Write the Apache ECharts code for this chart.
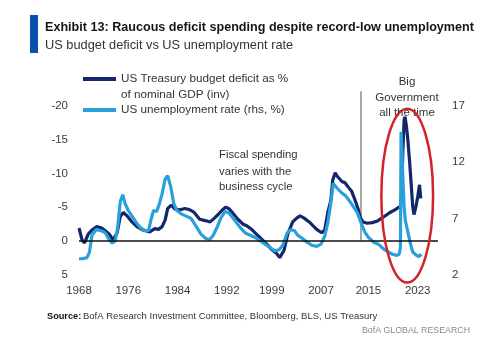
<!DOCTYPE html>
<html>
<head>
<meta charset="utf-8">
<script src="https://cdn.jsdelivr.net/npm/echarts@6/dist/echarts.min.js"></script>
<style>
html,body{margin:0;padding:0;background:#fff;}
#c{width:500px;height:362px;}
</style>
</head>
<body>
<div id="c"></div>
<script>
// ---- Data ----
const deficitName = 'US Treasury budget deficit as % of nominal GDP (inv)';
const unempName = 'US unemployment rate (rhs, %)';

// Budget balance as % of GDP, plotted on inverted left axis (negative = deficit)
const deficitYears = [1968.0,1968.5,1968.9,1969.5,1970.1,1970.9,1971.7,1972.5,1973.0,1973.5,1974.2,1974.7,1975.2,1975.8,1976.6,1977.4,1978.4,1979.5,1980.3,1980.9,1981.5,1982.0,1982.4,1983.0,1983.6,1984.4,1985.2,1986.0,1986.6,1987.6,1988.5,1989.3,1989.9,1990.6,1991.2,1991.8,1992.3,1993.0,1993.8,1994.6,1995.3,1995.9,1996.9,1997.7,1998.5,1999.3,2000.1,2000.6,2001.3,2001.9,2002.7,2003.4,2003.9,2004.5,2005.5,2006.6,2007.4,2007.9,2008.4,2008.9,2009.2,2009.6,2010.0,2010.7,2011.2,2011.7,2012.3,2012.8,2013.3,2013.7,2014.1,2014.8,2015.6,2016.4,2017.4,2018.5,2019.3,2019.8,2020.2,2020.4,2020.6,2020.8,2020.95,2021.2,2021.4,2021.7,2021.9,2022.2,2022.4,2022.7,2023.0,2023.3,2023.5];
const deficitValues = [-1.9,-0.1,0.3,-1.0,-1.6,-2.1,-1.9,-1.3,-0.9,-0.1,-1.2,-3.6,-4.2,-3.7,-2.8,-2.1,-1.6,-1.3,-1.8,-1.7,-2.1,-3.1,-4.8,-5.3,-4.7,-4.6,-4.8,-4.6,-4.3,-3.2,-3.0,-2.8,-3.3,-3.9,-4.5,-5.0,-4.8,-4.1,-3.2,-2.5,-2.2,-1.8,-0.9,-0.2,0.5,1.3,1.9,2.5,1.4,-1.0,-2.8,-3.4,-3.7,-3.4,-2.7,-1.7,-1.2,-1.6,-4.2,-6.0,-9.0,-10.1,-9.5,-8.8,-8.6,-8.0,-7.3,-6.1,-4.8,-3.4,-2.8,-2.6,-2.7,-2.9,-3.5,-4.2,-4.6,-4.9,-5.1,-7.0,-13.5,-18.0,-18.4,-16.8,-15.0,-11.6,-9.0,-5.0,-3.9,-5.0,-6.5,-8.3,-6.3];

// Unemployment rate, %, right axis
const unempYears = [1968.0,1968.6,1969.3,1969.7,1970.1,1970.8,1971.6,1972.3,1972.9,1973.4,1973.9,1974.3,1974.7,1975.1,1975.5,1976.0,1976.6,1977.2,1977.9,1978.7,1979.3,1979.7,1980.1,1980.6,1981.0,1981.5,1982.0,1982.4,1982.9,1983.4,1983.9,1984.6,1985.4,1986.2,1987.0,1987.8,1988.6,1989.2,1989.8,1990.5,1991.0,1991.7,1992.3,1992.9,1993.6,1994.3,1995.0,1995.8,1996.6,1997.4,1998.2,1999.0,1999.8,2000.5,2001.1,2001.8,2002.4,2003.0,2003.5,2004.3,2005.0,2005.8,2006.6,2007.3,2007.9,2008.4,2008.9,2009.3,2009.9,2010.6,2011.3,2012.0,2012.6,2013.2,2013.8,2014.4,2015.0,2015.8,2016.6,2017.4,2018.2,2018.9,2019.6,2020.0,2020.2,2020.3,2020.45,2020.6,2020.8,2021.0,2021.4,2021.8,2022.2,2022.8,2023.2,2023.6];
const unempValues = [3.4,3.4,3.5,4.0,5.5,6.0,5.9,5.7,5.1,4.8,5.0,6.3,8.5,9.1,8.3,7.7,7.2,6.7,6.2,5.9,5.9,6.9,7.7,7.6,8.2,9.2,10.5,10.8,9.8,8.3,7.7,7.4,7.2,7.0,6.3,5.6,5.2,5.1,5.5,6.3,7.0,7.6,7.5,7.1,6.6,6.1,5.7,5.5,5.3,5.0,4.7,4.4,4.1,4.2,4.6,5.7,6.0,5.9,5.5,5.2,4.9,4.6,4.5,4.7,5.4,6.6,8.4,10.1,9.7,9.3,9.0,8.5,8.0,7.5,6.6,5.8,5.3,4.9,4.7,4.3,4.0,3.8,3.7,3.8,4.4,14.7,13.0,10.5,8.0,6.8,5.8,4.8,4.0,3.7,3.6,3.8];

// Axis ticks
const xTickYears = [1968,1976,1984,1992,1999.3,2007.3,2015,2023];
const xTickLabels = ['1968','1976','1984','1992','1999','2007','2015','2023'];

// Annotation anchors (data space)
const regimeBreakYear = 2013.8;
const ellipseCenter = [2021.3, -6.7];
const ellipseHalf = [4.2, 12.9];

(function () {
const FONT = '"Liberation Sans", Arial, sans-serif';
const LABEL = '#3a3a3a';

const chart = echarts.init(document.getElementById('c'), null, {renderer: 'canvas'});

function baseGraphics() {
  return [
    {id: 'bar', type: 'rect', shape: {x: 30, y: 15, width: 8, height: 38}, style: {fill: '#0b4fae'}},
    {id: 't1', type: 'text', style: {text: 'Exhibit 13: Raucous deficit spending despite record-low unemployment', x: 45, y: 28, fill: '#161616', fontSize: 12.6, fontWeight: 'bold', fontFamily: FONT, verticalAlign: 'middle'}},
    {id: 't2', type: 'text', style: {text: 'US budget deficit vs US unemployment rate', x: 45, y: 45, fill: '#333', fontSize: 12.8, fontFamily: FONT, verticalAlign: 'middle'}},
    {id: 'lg2', type: 'text', style: {text: 'of nominal GDP (inv)', x: 121, y: 94.5, fill: '#333', fontSize: 11.7, fontFamily: FONT, verticalAlign: 'middle'}},
    {id: 'a1', type: 'text', style: {text: 'Fiscal spending', x: 219, y: 155, fill: '#333', fontSize: 11.3, fontFamily: FONT, verticalAlign: 'middle'}},
    {id: 'a2', type: 'text', style: {text: 'varies with the', x: 219, y: 171.5, fill: '#333', fontSize: 11.3, fontFamily: FONT, verticalAlign: 'middle'}},
    {id: 'a3', type: 'text', style: {text: 'business cycle', x: 219, y: 187, fill: '#333', fontSize: 11.3, fontFamily: FONT, verticalAlign: 'middle'}},
    {id: 'b1', type: 'text', style: {text: 'Big', x: 407, y: 82, fill: '#333', fontSize: 11.5, fontFamily: FONT, verticalAlign: 'middle', align: 'center'}},
    {id: 'b2', type: 'text', style: {text: 'Government', x: 407, y: 98, fill: '#333', fontSize: 11.5, fontFamily: FONT, verticalAlign: 'middle', align: 'center'}},
    {id: 'b3', type: 'text', style: {text: 'all the time', x: 407, y: 113, fill: '#333', fontSize: 11.5, fontFamily: FONT, verticalAlign: 'middle', align: 'center'}},
    {id: 's1', type: 'text', style: {text: 'Source:', x: 47, y: 316, fill: '#111', fontSize: 9.2, fontWeight: 'bold', fontFamily: FONT, verticalAlign: 'middle'}},
    {id: 's2', type: 'text', style: {text: 'BofA Research Investment Committee, Bloomberg, BLS, US Treasury', x: 83, y: 316, fill: '#333', fontSize: 9.5, fontFamily: FONT, verticalAlign: 'middle'}},
    {id: 's3', type: 'text', style: {text: 'BofA GLOBAL RESEARCH', x: 470, y: 331, fill: '#8a8a8a', fontSize: 8.8, fontFamily: FONT, verticalAlign: 'middle', align: 'right'}}
  ];
}

const option = {
  animation: false,
  backgroundColor: '#fff',
  textStyle: {fontFamily: FONT},
  grid: {left: 79, right: 62, top: 106, bottom: 87.5, containLabel: false},
  legend: [
    {data: [deficitName], left: 83, top: 73, padding: 0, icon: 'rect', itemWidth: 33, itemHeight: 4,
     formatter: () => 'US Treasury budget deficit as %', textStyle: {color: '#333', fontSize: 11.7, fontFamily: FONT}, selectedMode: false},
    {data: [unempName], left: 83, top: 104, padding: 0, icon: 'rect', itemWidth: 33, itemHeight: 4,
     textStyle: {color: '#333', fontSize: 11.7, fontFamily: FONT}, selectedMode: false}
  ],
  xAxis: {
    type: 'value', min: 1968, max: 2026.3,
    axisLine: {show: false}, axisTick: {show: false}, splitLine: {show: false},
    axisLabel: {customValues: xTickYears, formatter: v => xTickLabels[xTickYears.indexOf(v)] || '',
      color: LABEL, fontSize: 11.5, fontFamily: FONT, margin: 10}
  },
  yAxis: [
    {type: 'value', inverse: true, min: -20, max: 5, interval: 5, position: 'left',
     axisLine: {show: false}, axisTick: {show: false}, splitLine: {show: false},
     axisLabel: {color: LABEL, fontSize: 11.5, fontFamily: FONT, margin: 11}},
    {type: 'value', min: 2, max: 17, interval: 5, position: 'right',
     axisLine: {show: false}, axisTick: {show: false}, splitLine: {show: false},
     axisLabel: {color: LABEL, fontSize: 11.5, fontFamily: FONT, margin: 14}}
  ],
  series: [
    {name: deficitName, type: 'line', yAxisIndex: 0, showSymbol: false, symbol: 'none',
     data: deficitYears.map((y, i) => [y, deficitValues[i]]),
     itemStyle: {color: '#13276c'}, lineStyle: {color: '#13276c', width: 3.2},
     markLine: {silent: true, symbol: 'none', label: {show: false},
       lineStyle: {color: '#111', width: 1.5, type: 'solid'}, data: [{yAxis: 0}]}},
    {name: unempName, type: 'line', yAxisIndex: 1, showSymbol: false, symbol: 'none',
     data: unempYears.map((y, i) => [y, unempValues[i]]),
     itemStyle: {color: '#2aa0da'}, lineStyle: {color: '#2aa0da', width: 3.2}}
  ],
  graphic: baseGraphics()
};
chart.setOption(option);

// Annotations anchored to data coordinates
const pTop = chart.convertToPixel({gridIndex: 0}, [regimeBreakYear, -22.2]);
const pBot = chart.convertToPixel({gridIndex: 0}, [regimeBreakYear, 0]);
const pc = chart.convertToPixel({gridIndex: 0}, ellipseCenter);
const pc2 = chart.convertToPixel({gridIndex: 0}, [ellipseCenter[0] + ellipseHalf[0], ellipseCenter[1] - ellipseHalf[1]]);
const g = baseGraphics();
g.push({id: 'vline', type: 'line', z: 1, shape: {x1: pTop[0], y1: pTop[1], x2: pBot[0], y2: pBot[1]}, style: {stroke: '#a8a8a8', lineWidth: 2}});
g.push({id: 'ell', type: 'ellipse', z: 10, shape: {cx: pc[0], cy: pc[1], rx: Math.abs(pc2[0] - pc[0]), ry: Math.abs(pc2[1] - pc[1])}, style: {fill: 'none', stroke: '#d3232a', lineWidth: 2.5}});
chart.setOption({graphic: g});
})();
</script>
</body>
</html>
